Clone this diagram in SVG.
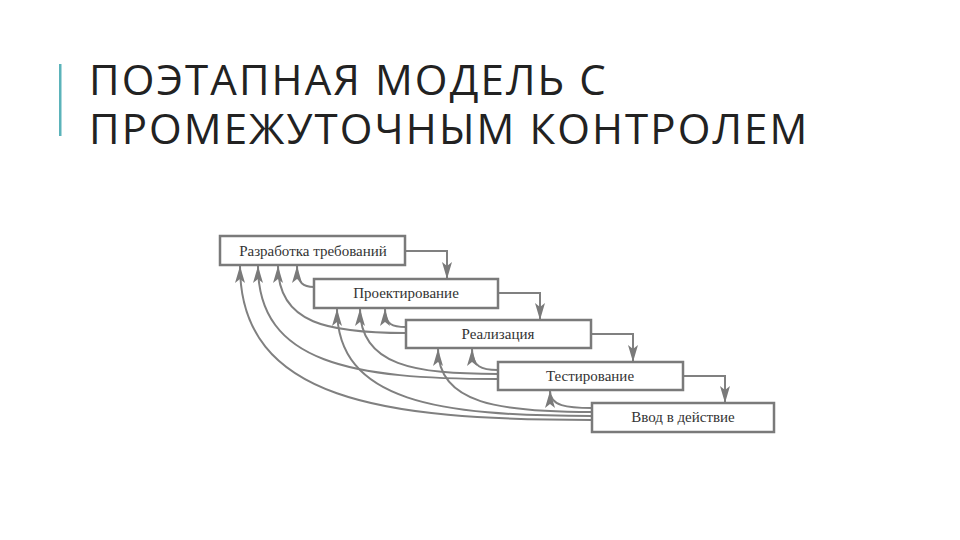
<svg xmlns="http://www.w3.org/2000/svg" width="960" height="540" viewBox="0 0 960 540">
<style>
.title{font-family:"Open Sans","Noto Sans","DejaVu Sans",sans-serif;font-size:42px;fill:#222;letter-spacing:2.1px;}
.box{fill:#fff;stroke:#7a7a7a;stroke-width:2.5;}
.lbl{font-family:"Liberation Serif","Times New Roman",serif;font-size:15px;fill:#333;text-anchor:middle;}
.con{fill:none;stroke:#808080;stroke-width:2;}
</style>
<defs>
<marker id="ah" markerUnits="userSpaceOnUse" markerWidth="18" markerHeight="11" viewBox="0 0 18 11" refX="17" refY="5.5" orient="auto">
<path d="M0,0.5 L17,5.5 L0,10.5 L4,5.5 z" fill="#7a7a7a"/>
</marker>
</defs>
<rect width="960" height="540" fill="#fff"/>
<g id="title">
<rect x="59" y="64" width="2.5" height="72" fill="#5bb3ba"/>
<text class="title" x="89" y="95">ПОЭТАПНАЯ МОДЕЛЬ С<tspan x="89" y="144">ПРОМЕЖУТОЧНЫМ КОНТРОЛЕМ</tspan></text>
</g>
<g id="connectors">
<path class="con" marker-end="url(#ah)" d="M405,251 H447 V279"/>
<path class="con" marker-end="url(#ah)" d="M498,293 H540 V320"/>
<path class="con" marker-end="url(#ah)" d="M591,334 H633 V362"/>
<path class="con" marker-end="url(#ah)" d="M683,376 H725 V403"/>
<path class="con" marker-end="url(#ah)" d="M592,420 C381,420 240,400 240,266"/>
<path class="con" marker-end="url(#ah)" d="M498,379 C354,379 258,364 258,266"/>
<path class="con" marker-end="url(#ah)" d="M406,333 C329,333 278,324 278,266"/>
<path class="con" marker-end="url(#ah)" d="M314,287 C304,287 297,284 297,266"/>
<path class="con" marker-end="url(#ah)" d="M592,416 C439,416 337,402 337,309"/>
<path class="con" marker-end="url(#ah)" d="M498,374 C415,374 360,366 360,309"/>
<path class="con" marker-end="url(#ah)" d="M406,327 C393,327 385,325 385,309"/>
<path class="con" marker-end="url(#ah)" d="M592,412 C500,412 438,404 438,349"/>
<path class="con" marker-end="url(#ah)" d="M498,370 C482,370 472,367 472,349"/>
<path class="con" marker-end="url(#ah)" d="M592,408 C567,408 550,406 550,391"/>
</g>
<g id="n1"><rect class="box" x="220" y="236" width="185" height="29"/><text class="lbl" x="313" y="256">Разработка требований</text></g>
<g id="n2"><rect class="box" x="314" y="279" width="184" height="29"/><text class="lbl" x="406" y="298">Проектирование</text></g>
<g id="n3"><rect class="box" x="406" y="320" width="185" height="28"/><text class="lbl" x="498" y="339">Реализация</text></g>
<g id="n4"><rect class="box" x="498" y="362" width="185" height="28"/><text class="lbl" x="590" y="381">Тестирование</text></g>
<g id="n5"><rect class="box" x="592" y="403" width="182" height="29"/><text class="lbl" x="683" y="422">Ввод в действие</text></g>
</svg>
